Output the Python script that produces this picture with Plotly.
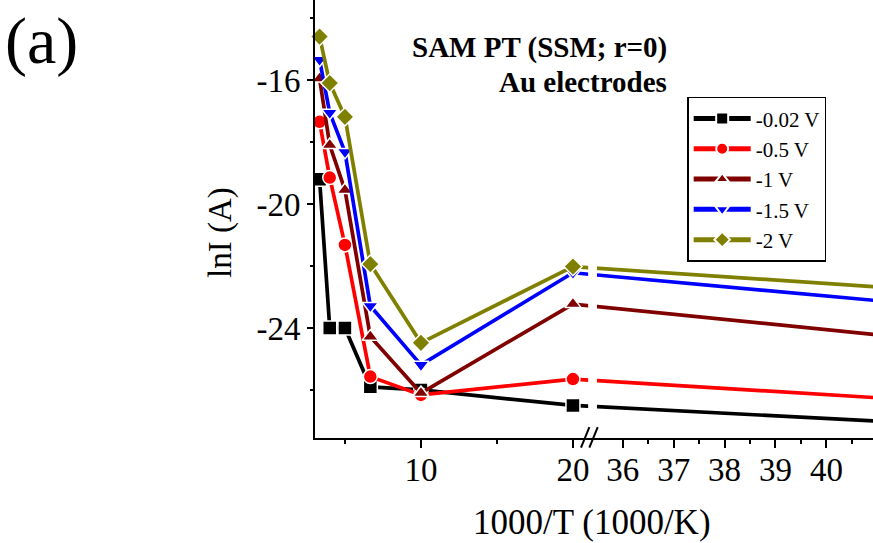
import plotly.graph_objects as go

# ---- data ----
inv_T = [3.33, 4.0, 5.0, 6.67, 10.0, 20.0, 41.67]   # 1000/T (1000/K)
series_names = ["-0.02 V", "-0.5 V", "-1 V", "-1.5 V", "-2 V"]
lnI_002 = [-19.2, -24.0, -24.0, -25.9, -26.0, -26.5, -27.06]
lnI_05 = [-17.35, -19.15, -21.32, -25.57, -26.16, -25.65, -26.32]
lnI_1 = [-15.95, -18.1, -19.55, -24.28, -26.1, -23.23, -24.33]
lnI_15 = [-15.35, -17.06, -18.32, -23.29, -25.19, -22.22, -23.22]
lnI_2 = [-14.6, -16.1, -17.19, -21.94, -24.48, -22.02, -22.75]
left_ticks = [10, 20]
left_minor = [5, 15]
right_ticks = [36, 37, 38, 39, 40]
right_minor = [36.5, 37.5, 38.5, 39.5, 40.5]
y_ticks = [-16, -20, -24]
y_minor = [-14, -18, -22, -26]

colors = ["#000000", "#ff0000", "#800000", "#0000ff", "#808000"]
symbols = ["square", "circle", "triangle-up", "triangle-down", "diamond"]
all_series = [lnI_002, lnI_05, lnI_1, lnI_15, lnI_2]

# ---- broken-axis transform (left segment up to L_END, right from R_START) ----
L_END, R_START, GAP, SCALE = 21.0, 35.5, 0.6, 3.35


def xp(v):
    if v <= L_END:
        return v
    return L_END + GAP + (v - R_START) * SCALE


FONT = "Liberation Serif, Times New Roman, serif"
fig = go.Figure()
for name, ys, c, s in zip(series_names, all_series, colors, symbols):
    fig.add_trace(go.Scatter(
        x=[xp(v) for v in inv_T], y=ys, name=name, mode="lines+markers",
        line=dict(color=c, width=3.7), cliponaxis=False,
        marker=dict(symbol=s, size=14, color=c, line=dict(color="white", width=1.5)),
    ))

x_lo = 3.03
x_hi = x_lo + 558 / 15.2
fig.update_layout(
    width=873, height=543,
    margin=dict(l=315, r=0, t=0, b=105),
    paper_bgcolor="white", plot_bgcolor="white",
    font=dict(family=FONT, color="black", size=33),
    xaxis=dict(
        range=[x_lo, x_hi], showgrid=False, zeroline=False,
        showline=True, linecolor="black", linewidth=2,
        ticks="outside", ticklen=8, tickwidth=2, tickcolor="black",
        tickmode="array",
        tickvals=[xp(v) for v in left_ticks + right_ticks],
        ticktext=[str(v) for v in left_ticks + right_ticks],
        tickfont=dict(family=FONT, size=33), ticklabelstandoff=-7,
        minor=dict(tickmode="array", tickvals=[xp(v) for v in left_minor + right_minor],
                   ticks="outside", ticklen=4, tickwidth=2, tickcolor="black"),
    ),
    yaxis=dict(
        range=[-27.55, -13.42], showgrid=False, zeroline=False,
        showline=True, linecolor="black", linewidth=2,
        ticks="outside", ticklen=6, tickwidth=2, tickcolor="black",
        tickmode="array", tickvals=y_ticks, ticktext=[str(v) for v in y_ticks],
        tickfont=dict(family=FONT, size=33),
        minor=dict(tickmode="array", tickvals=y_minor,
                   ticks="outside", ticklen=3, tickwidth=2, tickcolor="black"),
    ),
    legend=dict(
        x=0.667, y=0.779, xanchor="left", yanchor="top",
        bordercolor="black", borderwidth=1.5, bgcolor="white",
        font=dict(family=FONT, size=21), itemsizing="constant", itemwidth=57,
        tracegroupgap=0,
    ),
    showlegend=True,
)

# break gap and // marks
gx0, gx1 = L_END, L_END + GAP
fig.add_shape(type="rect", xref="x", yref="paper", x0=gx0, x1=gx1 - 0.02, y0=0.008, y1=1,
              fillcolor="white", line=dict(width=0), layer="above")
for off in [-0.22, 0.33]:
    fig.add_shape(type="line", xref="x", yref="paper",
                  x0=gx0 + off - 0.25, x1=gx0 + off + 0.3, y0=-0.022, y1=0.025,
                  line=dict(color="black", width=2), layer="above")

# annotations
fig.add_annotation(text="<b>SAM PT (SSM; r=0)</b>", xref="paper", yref="paper",
                   x=(669 - 315) / 558, y=(438 - 47) / 438, xanchor="right", yanchor="middle",
                   showarrow=False, font=dict(family=FONT, size=29))
fig.add_annotation(text="<b>Au electrodes</b>", xref="paper", yref="paper",
                   x=(669 - 315) / 558, y=(438 - 82) / 438, xanchor="right", yanchor="middle",
                   showarrow=False, font=dict(family=FONT, size=29))
fig.add_annotation(text="(a)", xref="paper", yref="paper",
                   x=(41 - 315) / 558, y=(438 - 41) / 438, xanchor="center", yanchor="middle",
                   showarrow=False, font=dict(family=FONT, size=66))
fig.add_annotation(text="1000/T (1000/K)", xref="paper", yref="paper",
                   x=(592 - 315) / 558, y=(438 - 522) / 438, xanchor="center", yanchor="middle",
                   showarrow=False, font=dict(family=FONT, size=35))
fig.add_annotation(text="lnI (A)", xref="paper", yref="paper", textangle=-90,
                   x=(220 - 315) / 558, y=(438 - 233) / 438, xanchor="center", yanchor="middle",
                   showarrow=False, font=dict(family=FONT, size=33))

fig.write_html("out.html")
